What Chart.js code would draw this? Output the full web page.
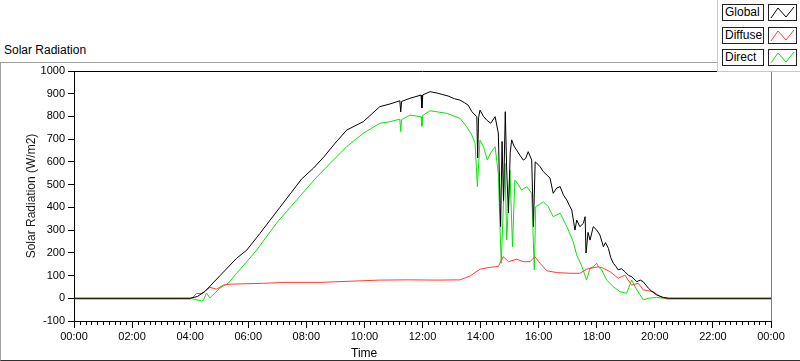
<!DOCTYPE html>
<html>
<head>
<meta charset="utf-8">
<script src="https://cdn.jsdelivr.net/npm/chart.js@4/dist/chart.umd.min.js"></script>
<style>
    body { margin: 0; width: 800px; height: 361px; position: relative; overflow: hidden; background: #fff; font-family: 'Liberation Sans', Arial, sans-serif; }
    #frame { position: absolute; left: 0; top: 62px; width: 805px; height: 297px; border-top: 1px solid #a0a0a0; border-left: 1px solid #a0a0a0; border-bottom: 1px solid #303030; }
    #chart-title { position: absolute; left: 4px; top: 43px; font-size: 12px; color: #000; }
    #time-label { position: absolute; left: 351px; top: 346px; font-size: 12px; color: #000; }
    canvas { position: absolute; left: 0; top: 0; }
    #legend { position: absolute; left: 717px; top: 0; width: 83px; height: 71px; background: #fff; border-left: 1px solid #c8c8c8; border-bottom: 1px solid #c8c8c8; }
    .leg-label, .leg-icon { position: absolute; box-sizing: border-box; height: 17px; border: 1px solid #222; background: #fff; }
    .leg-label { left: 4px; width: 42px; font-size: 12px; line-height: 15px; padding-left: 2px; }
    .leg-icon { left: 50px; width: 29px; }
    .leg-icon svg { display: block; }
</style>
</head>
<body>
<div id="frame"></div>
<div id="chart-title">Solar Radiation</div>
<canvas id="solar-chart" width="800" height="361"></canvas>
<div id="time-label">Time</div>
<div id="legend"></div>

<script>
// Global radiation (hours, W/m2)
const globalTime = [0, 4.0, 4.25, 4.51, 5.03, 5.6, 5.95, 6.4, 7.09, 7.84, 8.24, 8.59, 8.99, 9.39, 9.96, 10.53, 10.88, 11.22, 11.25, 11.28,
    11.57, 11.95, 11.98, 12.01, 12.26, 12.53, 12.7, 12.88, 13.1, 13.29, 13.45, 13.57, 13.7, 13.87, 13.9, 13.93, 13.98, 14.1, 14.21, 14.35, 14.5, 14.61,
    14.69, 14.74, 14.79, 14.85, 14.9, 14.96, 15.02, 15.07, 15.15, 15.24, 15.35, 15.47, 15.55, 15.64, 15.76, 15.82, 15.88, 15.93, 16.05, 16.16, 16.3, 16.39, 16.5,
    16.62, 16.74, 16.85, 16.97, 17.05, 17.14, 17.2, 17.25, 17.31, 17.42, 17.54, 17.6, 17.63, 17.7, 17.77, 17.88, 18.0, 18.11, 18.23, 18.3, 18.4, 18.48, 18.57,
    18.66, 18.74, 18.85, 18.97, 19.1, 19.2, 19.38, 19.5, 19.6, 19.78, 19.9, 20.06, 20.29, 20.5, 24];
const globalValue = [0, 0, 8, 30, 100, 176, 212, 285, 400, 525, 572, 620, 682, 740, 777, 843, 855, 869, 820, 866,
    880, 894, 837, 895, 909, 902, 896, 890, 878, 872, 860, 850, 821, 799, 617, 795, 828, 800, 784, 770, 799, 727,
    315, 690, 430, 821, 560, 375, 640, 697, 670, 652, 630, 608, 615, 645, 608, 315, 600, 595, 579, 557, 540, 529, 462,
    485, 491, 455, 432, 410, 388, 340, 300, 344, 315, 330, 359, 199, 290, 256, 315, 300, 278, 227, 245, 220, 180, 154,
    140, 125, 130, 117, 100, 95, 73, 80, 73, 44, 30, 15, 4, 0, 0];

// Diffuse radiation
const diffuseTime = [0, 4.0, 4.1, 4.22, 4.39, 4.68, 4.91, 5.14, 5.37, 6.52, 7.33, 8.47, 9.5, 10.54, 11.5, 12.5, 13.29,
    13.64, 13.98, 14.32, 14.61, 14.78, 14.96, 15.24, 15.47, 15.7, 15.87, 16.05, 16.28, 16.62, 17.08, 17.42, 17.65,
    18.05, 18.23, 18.46, 18.74, 18.97, 19.2, 19.43, 19.6, 19.95, 20.18, 20.4, 24];
const diffuseValue = [-3, -3, 5, 22, 20, 48, 40, 58, 62, 66, 70, 70, 75, 80, 81, 80, 81,
    98, 128, 136, 140, 183, 161, 172, 161, 161, 183, 154, 121, 113, 110, 110, 128,
    139, 132, 117, 88, 102, 58, 66, 37, 29, 7, -3, -3];

// Direct radiation
const directTime = [0, 4.0, 4.39, 4.45, 4.56, 4.68, 5.03, 5.32, 5.6, 5.95, 6.29, 7.0, 8.3, 8.82, 9.39, 9.96, 10.53, 10.88, 11.22, 11.25,
    11.28, 11.57, 11.95, 11.98, 12.01, 12.26, 12.83, 13.29, 13.52, 13.7, 13.81, 13.89, 13.98, 14.1, 14.23, 14.35, 14.5, 14.61,
    14.71, 14.84, 14.9, 15.01, 15.1, 15.18, 15.3, 15.41, 15.59, 15.76, 15.85, 15.9, 16.05, 16.16, 16.33, 16.5, 16.74, 16.97, 17.19,
    17.31, 17.48, 17.65, 17.77, 17.88, 18.0, 18.05, 18.17, 18.34, 18.57, 18.8, 19.03, 19.2, 19.38, 19.6, 19.78, 20.06,
    20.29, 24];
const directValue = [0, 0, -12, -10, 23, 2, 45, 67, 110, 161, 212, 335, 525, 594, 667, 726, 770, 777, 788, 733,
    786, 806, 799, 757, 805, 825, 814, 792, 755, 718, 682, 491, 696, 667, 608, 640, 667, 550,
    154, 594, 256, 564, 227, 520, 500, 476, 491, 462, 125, 403, 415, 425, 403, 359, 374, 315, 249,
    190, 143, 80, 132, 139, 154, 139, 125, 80, 51, 29, 22, 80, 37, -7, 0, 4,
    0, 0];

// Axis ticks
const hourTicks = [0, 2, 4, 6, 8, 10, 12, 14, 16, 18, 20, 22, 24];
const radiationTicks = [-100, 0, 100, 200, 300, 400, 500, 600, 700, 800, 900, 1000];

const seriesList = [
    { name: 'Global', time: globalTime, value: globalValue, color: '#000000' },
    { name: 'Diffuse', time: diffuseTime, value: diffuseValue, color: '#ff3b3b' },
    { name: 'Direct', time: directTime, value: directValue, color: '#10e010' }
];

// Legend boxes in the top right corner
const legend = document.getElementById('legend');
seriesList.forEach((s, i) => {
    const top = 4 + i * 22.5;
    legend.innerHTML += `
        <div class="leg-label" style="top:${top}px">${s.name}</div>
        <div class="leg-icon" style="top:${top}px">
            <svg width="27" height="15"><polyline points="2,13 9,3 17,12 25,2" fill="none" stroke="${s.color}" stroke-width="1"/></svg>
        </div>`;
});

function formatHour(value) {
    const h = Math.round(value) % 24;
    return (h < 10 ? '0' : '') + h + ':00';
}

// Frame lines and minor time ticks
const framePlugin = {
    id: 'frame',
    afterDraw(chart) {
        const ctx = chart.ctx;
        const { left, top, right, bottom } = chart.chartArea;
        ctx.save();
        ctx.lineWidth = 1;
        ctx.strokeStyle = '#000';
        ctx.beginPath();
        ctx.moveTo(left, top + 0.5);
        ctx.lineTo(right, top + 0.5);
        ctx.stroke();
        ctx.strokeStyle = '#808080';
        ctx.beginPath();
        ctx.moveTo(right + 0.5, top);
        ctx.lineTo(right + 0.5, bottom);
        ctx.stroke();
        const xScale = chart.scales.x;
        ctx.strokeStyle = '#000';
        ctx.beginPath();
        for (let m = 0; m <= 120; m++) {
            if (m % 10 === 0) continue;
            const x = Math.round(xScale.getPixelForValue(m * 0.2)) + 0.5;
            ctx.moveTo(x, bottom);
            ctx.lineTo(x, bottom + 4);
        }
        ctx.stroke();
        ctx.restore();
    }
};

const tickFont = { family: "'Liberation Sans', Arial, sans-serif", size: 11 };

new Chart(document.getElementById('solar-chart'), {
    type: 'line',
    data: {
        datasets: seriesList.map(s => ({
            label: s.name,
            data: s.time.map((t, i) => ({ x: t, y: s.value[i] })),
            borderColor: s.color,
            borderWidth: 1,
            pointRadius: 0,
            tension: 0,
            fill: false
        }))
    },
    options: {
        responsive: false,
        animation: false,
        layout: { padding: { top: 71, right: 29, left: 0, bottom: 0 } },
        plugins: { legend: { display: false }, tooltip: { enabled: false } },
        scales: {
            x: {
                type: 'linear',
                min: 0,
                max: 24,
                afterFit: s => { s.height = 40; },
                afterBuildTicks: s => { s.ticks = hourTicks.map(v => ({ value: v })); },
                ticks: { autoSkip: false, maxRotation: 0, color: '#000', font: tickFont, padding: 2, callback: formatHour },
                grid: { drawOnChartArea: false, tickLength: 7, tickColor: '#000' },
                border: { color: '#000' }
            },
            y: {
                min: -100,
                max: 1000,
                afterFit: s => { s.width = 74; },
                afterBuildTicks: s => { s.ticks = radiationTicks.map(v => ({ value: v })); },
                ticks: { color: '#000', font: tickFont, padding: 3, callback: v => String(v) },
                grid: { drawOnChartArea: false, tickLength: 6, tickColor: '#000' },
                border: { color: '#000' },
                title: {
                    display: true,
                    text: 'Solar Radiation (W/m2)',
                    color: '#1a1a1a',
                    font: { family: "'Liberation Sans', Arial, sans-serif", size: 12 },
                    padding: { top: 24, bottom: 0 }
                }
            }
        }
    },
    plugins: [framePlugin]
});
</script>
</body>
</html>
